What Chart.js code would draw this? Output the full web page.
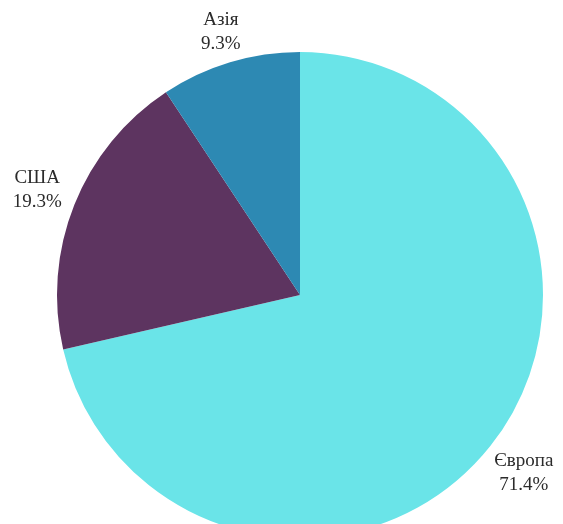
<!DOCTYPE html>
<html>
<head>
<meta charset="utf-8">
<script src="https://cdn.jsdelivr.net/npm/chart.js@4"></script>
<style>
html,body{margin:0;padding:0;background:#fff;overflow:hidden;}
#wrap{width:563px;height:590px;position:relative;}
</style>
</head>
<body>
<div id="wrap"><canvas id="pie"></canvas></div>
<script>
const regions = ['Європа', 'США', 'Азія'];
const shares = [71.4, 19.3, 9.3];
const colors = ['#6ae4e8', '#5d3460', '#2d89b3'];

// labels placed outside each slice, on its middle angle
const labelGap = [43, 40, 32];
const outLabels = {
  id: 'outLabels',
  afterDatasetsDraw(chart) {
    const ctx = chart.ctx;
    const meta = chart.getDatasetMeta(0);
    ctx.save();
    ctx.font = '19px "Liberation Serif", serif';
    ctx.fillStyle = '#2b2b2b';
    ctx.textAlign = 'center';
    ctx.textBaseline = 'middle';
    meta.data.forEach((arc, i) => {
      const a = (arc.startAngle + arc.endAngle) / 2;
      const r = arc.outerRadius + labelGap[i];
      const x = arc.x + Math.cos(a) * r;
      const y = arc.y + Math.sin(a) * r;
      ctx.fillText(regions[i], x, y - 12);
      ctx.fillText(shares[i].toFixed(1) + '%', x, y + 12);
    });
    ctx.restore();
  }
};

new Chart(document.getElementById('pie'), {
  type: 'pie',
  data: {
    labels: regions,
    datasets: [{
      data: shares,
      backgroundColor: colors,
      borderWidth: 0
    }]
  },
  options: {
    responsive: true,
    maintainAspectRatio: false,
    animation: false,
    layout: { padding: { top: 52, bottom: 52, left: 57, right: 20 } },
    plugins: {
      legend: { display: false },
      tooltip: { enabled: false }
    }
  },
  plugins: [outLabels]
});
</script>
</body>
</html>
